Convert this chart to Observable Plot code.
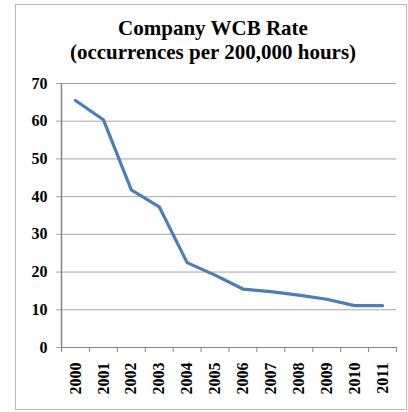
<!DOCTYPE html>
<html>
<head>
<meta charset="utf-8">
<script src="https://cdn.jsdelivr.net/npm/d3@7"></script>
<script src="https://cdn.jsdelivr.net/npm/@observablehq/plot@0.6"></script>
<style>
  html, body { margin: 0; padding: 0; background: #fff; }
  #wrap { position: relative; width: 408px; height: 412px; overflow: hidden; font-family: "Liberation Serif", "Times New Roman", serif; }
  #frame { position: absolute; left: 15px; top: 4px; width: 390px; height: 404px; border: 1px solid #b8b8b8; pointer-events: none; }
  #title { position: absolute; left: 0; top: 16px; width: 426px; text-align: center; font-weight: bold; font-size: 21px; line-height: 24px; color: #000; }
  #chart { position: absolute; left: 0; top: 70px; }
</style>
</head>
<body>
<div id="wrap">
  <div id="frame"></div>
  <div id="title">Company WCB Rate<br>(occurrences per 200,000 hours)</div>
  <div id="chart"></div>
</div>
<script>
const years = [2000, 2001, 2002, 2003, 2004, 2005, 2006, 2007, 2008, 2009, 2010, 2011];
const rates = [65.5, 60.4, 41.8, 37.3, 22.5, 19.2, 15.5, 14.8, 13.9, 12.8, 11.1, 11.1];
const yTicks = [0, 10, 20, 30, 40, 50, 60, 70];

const data = years.map((year, i) => ({year, rate: rates[i]}));
const boundaries = years.map(y => y - 0.5).concat([years[years.length - 1] + 0.5]);

const plot = Plot.plot({
  width: 408,
  height: 342,
  marginLeft: 61,
  marginRight: 12,
  marginTop: 13,
  marginBottom: 65,
  style: {fontFamily: '"Liberation Serif", "Times New Roman", serif', fontWeight: "bold", color: "#000", background: "transparent"},
  x: {domain: [boundaries[0], boundaries[boundaries.length - 1]]},
  y: {domain: [0, 70]},
  marks: [
    Plot.ruleY(yTicks.filter(d => d > 0), {stroke: "#a6a6a6", strokeWidth: 1, strokeOpacity: 1}),
    Plot.axisY({ticks: yTicks, tickSize: 5, tickPadding: 9, stroke: "#a6a6a6", strokeOpacity: 1, fontSize: 16, fill: "#000", label: null, tickFormat: d => String(d)}),
    Plot.axisX({ticks: boundaries, tickSize: 5, tickFormat: () => "", stroke: "#868686", strokeOpacity: 1, label: null}),
    Plot.axisX({ticks: years, tickSize: 0, tickPadding: 15, tickRotate: -90, fontSize: 16, fill: "#000", label: null, tickFormat: d => String(d)}),
    Plot.ruleX([boundaries[0]], {y1: 0, y2: 70, stroke: "#868686", strokeWidth: 1.5}),
    Plot.ruleY([0], {stroke: "#868686", strokeWidth: 1.2}),
    Plot.line(data, {x: "year", y: "rate", stroke: "#4a7ebb", strokeWidth: 3.2, strokeLinejoin: "round", strokeLinecap: "round"})
  ]
});
document.getElementById("chart").appendChild(plot);
</script>
</body>
</html>
